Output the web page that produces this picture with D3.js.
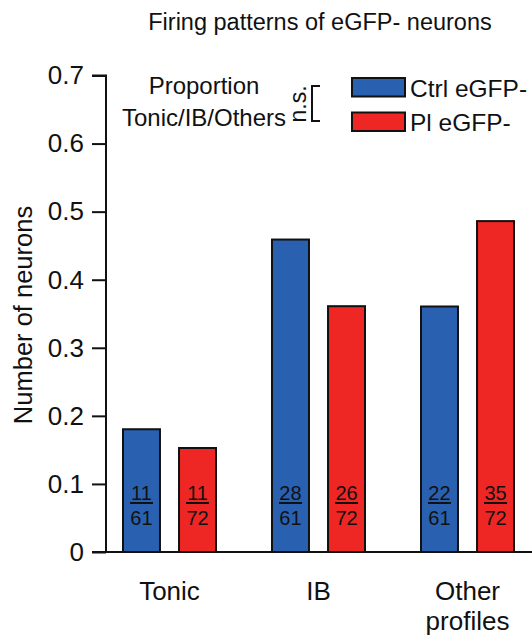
<!DOCTYPE html>
<html>
<head>
<meta charset="utf-8">
<script src="https://cdn.jsdelivr.net/npm/d3@7"></script>
<style>
  html, body { margin: 0; padding: 0; background: #fff; }
  svg { display: block; font-family: "Liberation Sans", Arial, sans-serif; }
</style>
</head>
<body>
<svg id="chart" width="532" height="641"></svg>
<script>
// ---- data ----
const categories = ["Tonic", "IB", "Other profiles"];
const seriesNames = ["Ctrl eGFP-", "Pl eGFP-"];
const numerators = {
  "Ctrl eGFP-": [11, 28, 22],
  "Pl eGFP-":   [11, 26, 35]
};
const denominators = {
  "Ctrl eGFP-": [61, 61, 61],
  "Pl eGFP-":   [72, 72, 72]
};
const yTicks = [0, 0.1, 0.2, 0.3, 0.4, 0.5, 0.6, 0.7];
const yTickLabels = ["0", "0.1", "0.2", "0.3", "0.4", "0.5", "0.6", "0.7"];
const colors = { "Ctrl eGFP-": "#2961b0", "Pl eGFP-": "#ee2624" };

const svg = d3.select("#chart");

const x0 = d3.scaleBand().domain(categories).range([95, 542]).paddingInner(0).paddingOuter(0);
const x1 = d3.scaleBand().domain(seriesNames).range([28, 121]).paddingInner(0.34).paddingOuter(0);
const y = d3.scaleLinear().domain([0, 0.7]).range([552, 75.5]);

const rows = [];
categories.forEach((c, i) => {
  seriesNames.forEach(s => {
    rows.push({ cat: c, series: s, num: numerators[s][i], den: denominators[s][i],
                value: numerators[s][i] / denominators[s][i] });
  });
});

// title
svg.append("text").attr("x", 320).attr("y", 30).attr("text-anchor", "middle")
  .attr("font-size", 23.5).attr("fill", "#111").text("Firing patterns of eGFP- neurons");

// bars
const g = svg.append("g");
g.selectAll("rect.bar").data(rows).join("rect").attr("class", "bar")
  .attr("x", d => x0(d.cat) + x1(d.series))
  .attr("y", d => y(d.value))
  .attr("width", x1.bandwidth())
  .attr("height", d => y(0) - y(d.value))
  .attr("fill", d => colors[d.series])
  .attr("stroke", "#111").attr("stroke-width", 2);

// fractions
const fr = g.selectAll("g.frac").data(rows).join("g").attr("class", "frac")
  .attr("transform", d => `translate(${x0(d.cat) + x1(d.series) + x1.bandwidth() / 2},0)`);
fr.append("text").attr("y", 500).attr("text-anchor", "middle").attr("font-size", 20)
  .attr("fill", "#111").text(d => d.num);
fr.append("line").attr("x1", -11.5).attr("x2", 11.5).attr("y1", 503).attr("y2", 503)
  .attr("stroke", "#111").attr("stroke-width", 2);
fr.append("text").attr("y", 524.5).attr("text-anchor", "middle").attr("font-size", 20)
  .attr("fill", "#111").text(d => d.den);

// y axis
const yAxis = d3.axisLeft(y).tickValues(yTicks).tickSize(14).tickPadding(8)
  .tickFormat((d, i) => yTickLabels[i]);
const ya = svg.append("g").attr("transform", "translate(106,0)").call(yAxis);
ya.select(".domain").attr("d", `M-14,${y(0.7)}H0V${y(0)}`).attr("stroke", "#111").attr("stroke-width", 2);
ya.selectAll(".tick line").attr("stroke", "#111").attr("stroke-width", 2);
ya.selectAll(".tick text").attr("font-size", 26).attr("fill", "#111")
  .attr("font-family", "Liberation Sans, Arial, sans-serif");

// x axis line
svg.append("line").attr("x1", 92).attr("x2", 532).attr("y1", y(0)).attr("y2", y(0))
  .attr("stroke", "#111").attr("stroke-width", 2);

// category labels
const cl = svg.selectAll("text.cat").data(categories).join("text").attr("class", "cat")
  .attr("x", d => x0(d) + x0.bandwidth() / 2)
  .attr("y", 600).attr("text-anchor", "middle").attr("font-size", 26).attr("fill", "#111");
cl.each(function(d) {
  const parts = d === "Other profiles" ? ["Other", "profiles"] : [d];
  const t = d3.select(this);
  parts.forEach((p, i) => {
    t.append("tspan").attr("x", x0(d) + x0.bandwidth() / 2).attr("dy", i === 0 ? 0 : 30).text(p);
  });
});

// y axis title
svg.append("text").attr("transform", "translate(32,315) rotate(-90)")
  .attr("text-anchor", "middle").attr("font-size", 25.5).attr("fill", "#111")
  .text("Number of neurons");

// legend
svg.append("text").attr("x", 204).attr("y", 94).attr("text-anchor", "middle")
  .attr("font-size", 24).attr("fill", "#111").text("Proportion");
svg.append("text").attr("x", 204).attr("y", 126).attr("text-anchor", "middle")
  .attr("font-size", 24).attr("fill", "#111").text("Tonic/IB/Others");
svg.append("text").attr("transform", "translate(306,104) rotate(-90)")
  .attr("text-anchor", "middle").attr("font-size", 23).attr("fill", "#111").text("n.s.");
svg.append("path").attr("d", "M320,86H312V121H320").attr("fill", "none")
  .attr("stroke", "#111").attr("stroke-width", 2);

const leg = svg.selectAll("g.leg").data(seriesNames).join("g").attr("class", "leg")
  .attr("transform", (d, i) => `translate(352,${78 + i * 34.5})`);
leg.append("rect").attr("width", 53).attr("height", 18.5)
  .attr("fill", d => colors[d]).attr("stroke", "#111").attr("stroke-width", 2);
leg.append("text").attr("x", 58).attr("y", 18.5).attr("font-size", 24.5).attr("fill", "#111").text(d => d);
</script>
</body>
</html>
